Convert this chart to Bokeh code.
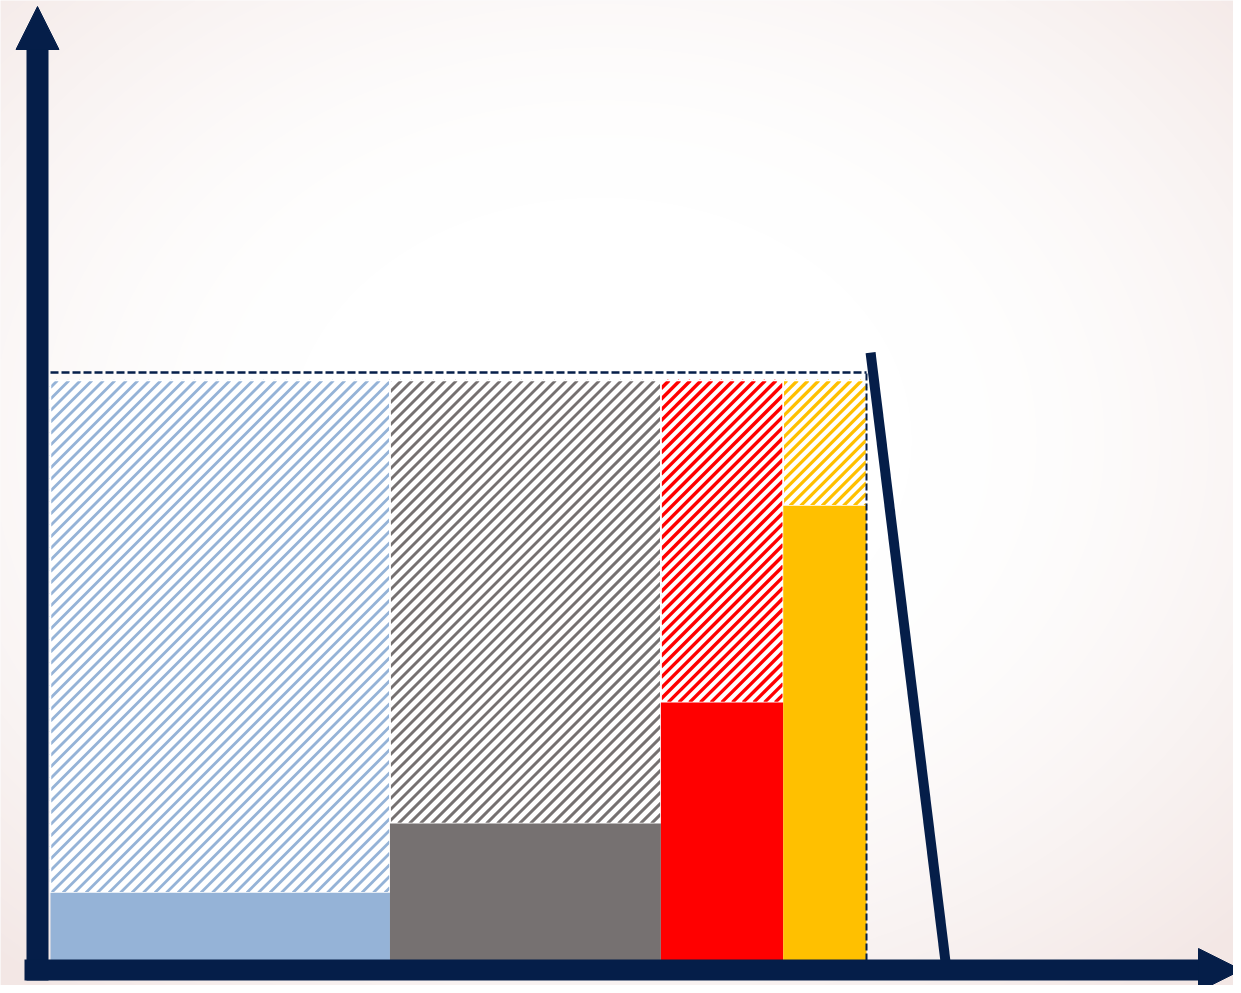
import numpy as np
from bokeh.plotting import figure
from bokeh.models import Range1d, Arrow, NormalHead, ColumnDataSource
from bokeh.embed import file_html
from bokeh.resources import INLINE

# ---- data ----
categories = ["A", "B", "C", "D"]
widths = [41.6, 33.2, 15.0, 10.2]          # share of total width (%)
solid_values = [11.7, 23.6, 44.5, 78.4]    # solid (filled) part
total_values = [100, 100, 100, 100]        # hatched part reaches this level
colors = ["#95b3d7", "#767171", "#ff0000", "#ffc000"]
target_level = 101.4                       # dashed reference level
slant_x = [100.5, 109.7]
slant_y = [104.8, -0.4]

# hatch styling per category (stripe period in px, stripe width in px)
hatch_period = [11.5, 11.0, 10.7, 10.7]
hatch_width = [2.8, 2.9, 3.4, 3.2]

NAVY = "#051e49"

lefts = np.concatenate([[0.0], np.cumsum(widths)[:-1]])
rights = np.cumsum(widths)

src = ColumnDataSource(dict(
    cat=categories, left=lefts, right=rights,
    solid=solid_values, total=total_values, color=colors,
    zero=[0] * len(categories),
))

# screen pixel <-> data mapping
X0, XS = 50.0, 8.16
Y0, YS = 960.0, 5.8
W, H = 1233, 985
x_start = (0 - X0) / XS
x_end = (W - X0) / XS
y_top = (Y0 - 0) / YS
y_bot = (Y0 - H) / YS

p = figure(width=W, height=H, output_backend="svg", toolbar_location=None,
           x_range=Range1d(x_start, x_end), y_range=Range1d(y_bot, y_top),
           min_border=0)
p.axis.visible = False
p.grid.visible = False
p.outline_line_color = None
p.background_fill_color = "#faf6f5"
p.border_fill_color = "#faf6f5"

# ---- background radial gradient ----
ys, xs = np.mgrid[0:H, 0:W]
px = xs + 0.5
py = H - ys - 0.5
d = np.sqrt(((px - 600) / 820.0) ** 2 + ((py - 440) / 640.0) ** 2)
f = np.clip((d - 0.38) / 0.72, 0, 1) ** 1.6
edge = np.array([243, 231, 229])
img = np.zeros((H, W), dtype=np.uint32)
view = img.view(dtype=np.uint8).reshape((H, W, 4))
for k in range(3):
    view[:, :, k] = (255 - (255 - edge[k]) * f).astype(np.uint8)
view[:, :, 3] = 255
p.image_rgba(image=[img], x=x_start, y=y_bot, dw=x_end - x_start, dh=y_top - y_bot)

# ---- hatched upper parts: white fill + 45deg stripes ----
p.quad(left="left", right="right", bottom="solid", top="total", source=src,
       fill_color="white", line_color=None)


def to_px(x, y):
    return X0 + x * XS, Y0 - y * YS


def to_data(px_, py_):
    return (px_ - X0) / XS, (Y0 - py_) / YS


for i in range(len(categories)):
    ax0, ay0 = to_px(lefts[i], total_values[i])   # top-left (py small)
    ax1, ay1 = to_px(rights[i], solid_values[i])  # bottom-right (py large)
    P = hatch_period[i]
    cmin, cmax = ax0 + ay0, ax1 + ay1
    ks = np.arange(np.floor(cmin / P), np.ceil(cmax / P) + 1)
    sx0, sy0, sx1, sy1 = [], [], [], []
    for kk in ks:
        c = kk * P
        pa = max(ax0, c - ay1)
        pb = min(ax1, c - ay0)
        if pb - pa <= 0.5:
            continue
        dxa, dya = to_data(pa, c - pa)
        dxb, dyb = to_data(pb, c - pb)
        sx0.append(dxa); sy0.append(dya); sx1.append(dxb); sy1.append(dyb)
    p.segment(x0=sx0, y0=sy0, x1=sx1, y1=sy1, line_color=colors[i],
              line_width=hatch_width[i], line_cap="butt")

# white separators around hatched parts
p.quad(left="left", right="right", bottom="solid", top="total", source=src,
       fill_color=None, line_color="white", line_width=1.5)

# ---- solid lower parts ----
p.quad(left="left", right="right", bottom="zero", top="solid", source=src,
       fill_color="color", line_color=None)

# ---- reference dashed lines ----
p.line([0, rights[-1]], [target_level, target_level], line_color=NAVY,
       line_width=2.5, line_dash="8 3")
p.line([rights[-1], rights[-1]], [0, target_level], line_color=NAVY,
       line_width=2, line_dash="7 3")

# ---- slanted line ----
p.line(slant_x, slant_y, line_color=NAVY, line_width=10)

# ---- axes arrows ----
vx = (37 - X0) / XS
p.add_layout(Arrow(end=NormalHead(size=43, fill_color=NAVY, line_color=NAVY),
                   x_start=vx, y_start=(Y0 - 980) / YS,
                   x_end=vx, y_end=(Y0 - 6) / YS,
                   line_color=NAVY, line_width=22))
hy = (Y0 - 969.5) / YS
p.add_layout(Arrow(end=NormalHead(size=43, fill_color=NAVY, line_color=NAVY),
                   x_start=(24 - X0) / XS, y_start=hy,
                   x_end=(1241 - X0) / XS, y_end=hy,
                   line_color=NAVY, line_width=21))

open("out.html", "w").write(file_html(p, INLINE))
